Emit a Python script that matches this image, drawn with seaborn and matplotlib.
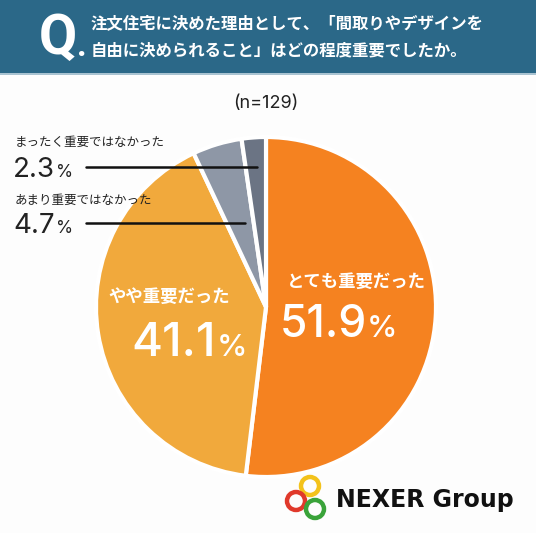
import matplotlib
matplotlib.use("Agg")
import matplotlib.pyplot as plt
import seaborn as sns
from matplotlib.patches import Rectangle, Circle

sns.set_theme(style="white")
plt.rcParams['font.family'] = ['Noto Sans CJK JP', 'DejaVu Sans']
NUMFAM = ['Inter', 'Lato', 'DejaVu Sans']

# data
categories = ["とても重要だった", "やや重要だった", "あまり重要ではなかった", "まったく重要ではなかった"]
values = [51.9, 41.1, 4.7, 2.3]
value_labels = ["51.9", "41.1", "4.7", "2.3"]
colors = ["#f58220", "#f1a93c", "#8e97a6", "#6b7484"]
title_lines = ["注文住宅に決めた理由として、「間取りやデザインを", "自由に決められること」はどの程度重要でしたか。"]
n_label = "(n=129)"

W, H = 536, 533
fig = plt.figure(figsize=(W / 100, H / 100), dpi=100)
fig.patch.set_facecolor("#fdfdfd")

def fx(x):
    return x / W

def fy(y):
    return 1 - y / H

# header
fig.patches.append(Rectangle((0, fy(73)), 1, 73 / H, transform=fig.transFigure,
                             facecolor="#2b6888", edgecolor="none", zorder=0))
fig.patches.append(Rectangle((0, fy(75)), 1, 2 / H, transform=fig.transFigure,
                             facecolor="#a9c3d1", edgecolor="none", zorder=0))
fig.text(fx(39), fy(54), "Q", color="white", fontsize=40, fontweight="bold",
         ha="left", va="baseline", family=['Roboto', 'DejaVu Sans'])
fig.text(fx(77), fy(56), ".", color="white", fontsize=24, fontweight="bold",
         ha="left", va="baseline", family=['Roboto', 'DejaVu Sans'])
fig.text(fx(91), fy(23), title_lines[0], color="white", fontsize=11.8, fontweight="bold",
         ha="left", va="center")
fig.text(fx(91), fy(50), title_lines[1], color="white", fontsize=11.8, fontweight="bold",
         ha="left", va="center")

fig.text(fx(266), fy(103), n_label, color="#222222", fontsize=13, ha="center", va="center",
         family=NUMFAM)

# pie
cx, cy, r = 266, 307, 170
ax = fig.add_axes([fx(cx - r), fy(cy + r), 2 * r / W, 2 * r / H])
ax.pie(values, colors=colors, startangle=90, counterclock=False,
       wedgeprops=dict(edgecolor="white", linewidth=3), radius=1)
ax.set_xlim(-1, 1)
ax.set_ylim(-1, 1)
ax.set_axis_off()

# in-slice labels
fig.text(fx(356), fy(282), categories[0], color="white", fontsize=12.5, fontweight="bold",
         ha="center", va="center")
fig.text(fx(367), fy(337), value_labels[0], color="white", fontsize=32, fontweight="medium",
         ha="right", va="baseline", family=NUMFAM)
fig.text(fx(367), fy(337), "%", color="white", fontsize=22, fontweight="medium",
         ha="left", va="baseline", family=NUMFAM)

fig.text(fx(169), fy(297), categories[1], color="white", fontsize=12.5, fontweight="bold",
         ha="center", va="center")
fig.text(fx(216), fy(356), value_labels[1], color="white", fontsize=34, fontweight="medium",
         ha="right", va="baseline", family=NUMFAM)
fig.text(fx(217), fy(356), "%", color="white", fontsize=22, fontweight="medium",
         ha="left", va="baseline", family=NUMFAM)

# outside labels
fig.text(fx(15), fy(142), categories[3], color="#222222", fontsize=9, ha="left", va="center")
fig.text(fx(55), fy(177), value_labels[3], color="#222222", fontsize=20, ha="right",
         va="baseline", family=NUMFAM)
fig.text(fx(56), fy(177), "%", color="#222222", fontsize=12.5, ha="left", va="baseline",
         family=NUMFAM)
fig.text(fx(15), fy(200), categories[2], color="#222222", fontsize=9, ha="left", va="center")
fig.text(fx(55), fy(233), value_labels[2], color="#222222", fontsize=20, ha="right",
         va="baseline", family=NUMFAM)
fig.text(fx(56), fy(233), "%", color="#222222", fontsize=12.5, ha="left", va="baseline",
         family=NUMFAM)

fig.add_artist(plt.Line2D([fx(86), fx(257)], [fy(167), fy(167)], color="#111111", lw=1.8,
                          transform=fig.transFigure))
fig.add_artist(plt.Line2D([fx(86), fx(245)], [fy(223), fy(223)], color="#111111", lw=1.8,
                          transform=fig.transFigure))

# logo
lax = fig.add_axes([0, 0, 1, 1], facecolor="none")
lax.set_xlim(0, W)
lax.set_ylim(H, 0)
lax.set_axis_off()
for (x, y, c) in [(310, 486, "#f3c21b"), (296, 501, "#e0392b"), (315, 509, "#3aa33a")]:
    lax.add_patch(Circle((x, y), 9, fill=False, edgecolor=c, linewidth=3.2))
lax.text(336, 500, "NEXER Group", fontsize=17, fontweight="bold", color="#111111",
         ha="left", va="center", family=["DejaVu Sans"])

fig.savefig("out.png", dpi=100, facecolor=fig.get_facecolor())
